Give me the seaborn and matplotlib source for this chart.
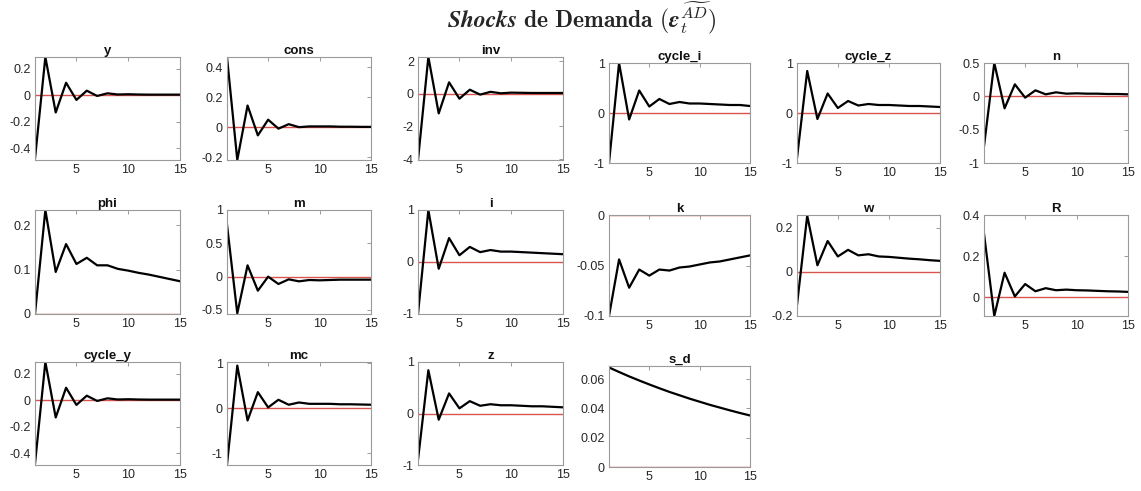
import numpy as np
import pandas as pd
import matplotlib
matplotlib.use('Agg')
import matplotlib.pyplot as plt
import seaborn as sns

# Impulse responses to a demand shock, periods 1..15
periods = list(range(1, 16))

y_irf = [-0.48, 0.29, -0.13, 0.095, -0.035, 0.035, -0.005, 0.015, 0.006, 0.008, 0.006, 0.005, 0.005, 0.005, 0.005]
cons_irf = [0.47, -0.22, 0.145, -0.055, 0.05, -0.01, 0.02, 0.0, 0.005, 0.005, 0.005, 0.003, 0.003, 0.002, 0.002]
inv_irf = [-4.05, 2.25, -1.2, 0.7, -0.3, 0.25, -0.05, 0.12, 0.03, 0.07, 0.06, 0.05, 0.05, 0.05, 0.05]
cycle_i_irf = [-1.0, 1.0, -0.13, 0.45, 0.13, 0.28, 0.18, 0.22, 0.19, 0.19, 0.18, 0.17, 0.16, 0.16, 0.14]
cycle_z_irf = [-0.9, 0.84, -0.12, 0.39, 0.1, 0.24, 0.15, 0.18, 0.16, 0.16, 0.15, 0.14, 0.14, 0.13, 0.12]
n_irf = [-0.75, 0.5, -0.18, 0.18, -0.02, 0.09, 0.03, 0.06, 0.04, 0.045, 0.04, 0.04, 0.035, 0.035, 0.03]
phi_irf = [0.0, 0.235, 0.095, 0.158, 0.113, 0.127, 0.11, 0.11, 0.102, 0.098, 0.093, 0.089, 0.084, 0.079, 0.074]
m_irf = [0.78, -0.55, 0.17, -0.21, 0.0, -0.11, -0.04, -0.07, -0.05, -0.055, -0.05, -0.045, -0.045, -0.045, -0.045]
i_irf = [-1.0, 1.0, -0.13, 0.46, 0.13, 0.29, 0.19, 0.23, 0.2, 0.2, 0.19, 0.18, 0.17, 0.16, 0.15]
k_irf = [-0.1, -0.044, -0.072, -0.054, -0.06, -0.054, -0.055, -0.052, -0.051, -0.049, -0.047, -0.046, -0.044, -0.042, -0.040]
w_irf = [-0.15, 0.255, 0.03, 0.14, 0.07, 0.1, 0.075, 0.08, 0.07, 0.068, 0.064, 0.06, 0.057, 0.053, 0.05]
R_irf = [0.31, -0.09, 0.12, 0.005, 0.065, 0.03, 0.045, 0.035, 0.038, 0.035, 0.034, 0.032, 0.03, 0.029, 0.027]
cycle_y_irf = [-0.48, 0.29, -0.13, 0.095, -0.035, 0.035, -0.005, 0.015, 0.006, 0.008, 0.006, 0.005, 0.005, 0.005, 0.005]
mc_irf = [-1.25, 0.95, -0.27, 0.36, 0.02, 0.19, 0.08, 0.13, 0.1, 0.1, 0.1, 0.09, 0.09, 0.085, 0.08]
z_irf = [-0.9, 0.84, -0.12, 0.39, 0.1, 0.24, 0.15, 0.18, 0.16, 0.16, 0.15, 0.14, 0.14, 0.13, 0.12]
s_d_irf = [0.068, 0.0649, 0.0619, 0.0591, 0.0564, 0.0538, 0.0513, 0.049, 0.0467, 0.0446, 0.0425, 0.0406, 0.0387, 0.0369, 0.0352]

# name, data, y limits, y ticks, y tick labels
panels = [
    ('y', y_irf, (-0.49, 0.29), [-0.4, -0.2, 0, 0.2], ['-0.4', '-0.2', '0', '0.2']),
    ('cons', cons_irf, (-0.22, 0.47), [-0.2, 0, 0.2, 0.4], ['-0.2', '0', '0.2', '0.4']),
    ('inv', inv_irf, (-4.05, 2.25), [-4, -2, 0, 2], ['-4', '-2', '0', '2']),
    ('cycle_i', cycle_i_irf, (-1.0, 1.0), [-1, 0, 1], ['-1', '0', '1']),
    ('cycle_z', cycle_z_irf, (-1.0, 1.0), [-1, 0, 1], ['-1', '0', '1']),
    ('n', n_irf, (-1.0, 0.5), [-1, -0.5, 0, 0.5], ['-1', '-0.5', '0', '0.5']),
    ('phi', phi_irf, (0.0, 0.235), [0, 0.1, 0.2], ['0', '0.1', '0.2']),
    ('m', m_irf, (-0.56, 1.0), [-0.5, 0, 0.5, 1], ['-0.5', '0', '0.5', '1']),
    ('i', i_irf, (-1.0, 1.0), [-1, 0, 1], ['-1', '0', '1']),
    ('k', k_irf, (-0.1, 0.0), [-0.1, -0.05, 0], ['-0.1', '-0.05', '0']),
    ('w', w_irf, (-0.2, 0.258), [-0.2, 0, 0.2], ['-0.2', '0', '0.2']),
    ('R', R_irf, (-0.09, 0.4), [0, 0.2, 0.4], ['0', '0.2', '0.4']),
    ('cycle_y', cycle_y_irf, (-0.49, 0.29), [-0.4, -0.2, 0, 0.2], ['-0.4', '-0.2', '0', '0.2']),
    ('mc', mc_irf, (-1.26, 1.03), [-1, 0, 1], ['-1', '0', '1']),
    ('z', z_irf, (-1.0, 1.0), [-1, 0, 1], ['-1', '0', '1']),
    ('s_d', s_d_irf, (0.0, 0.069), [0, 0.02, 0.04, 0.06], ['0', '0.02', '0.04', '0.06']),
]

# axes boxes in pixels: left, right, top, bottom
W, H = 1141, 491
cols = [(35, 180), (227, 371), (418, 563), (609, 750), (797, 940), (984, 1128)]
rows_left = [(57, 160), (210, 314), (362, 465)]
rows_right = [(63, 163), (215, 316), (366, 467)]

sns.set_theme(style='white')
plt.rcParams['font.family'] = ['Liberation Sans', 'DejaVu Sans']
plt.rcParams['mathtext.fontset'] = 'cm'

fig = plt.figure(figsize=(W / 100, H / 100), dpi=100)

for idx, (name, vals, ylim, yt, ytl) in enumerate(panels):
    if idx < 12:
        r, c = divmod(idx, 6)
    else:
        r, c = 2, idx - 12
    x0, x1 = cols[c]
    t0, b0 = rows_left[r] if c < 3 else rows_right[r]
    ax = fig.add_axes([x0 / W, 1 - b0 / H, (x1 - x0) / W, (b0 - t0) / H])
    df = pd.DataFrame({'t': periods, 'v': vals})
    ax.plot([1, 15], [0, 0], color='#d9534f', lw=1.0, zorder=1)
    sns.lineplot(data=df, x='t', y='v', ax=ax, color='black', lw=1.6, zorder=2)
    ax.set_xlim(1, 15)
    ax.set_ylim(*ylim)
    ax.set_xticks([5, 10, 15])
    ax.set_xticklabels(['5', '10', '15'])
    ax.set_yticks(yt)
    ax.set_yticklabels(ytl)
    ax.set_xlabel('')
    ax.set_ylabel('')
    ax.set_title(name, fontsize=9.5, fontweight='bold', pad=2, color='#111111')
    ax.tick_params(direction='in', top=True, right=True, length=3, width=0.6,
                   labelsize=9, colors='#8c8c8c', labelcolor='#262626', pad=3)
    for sp in ax.spines.values():
        sp.set_color('#9a9a9a')
        sp.set_linewidth(0.8)

fig.text(0.51, 0.963,
         r'$\mathbfit{Shocks}\ \mathbf{de\ Demanda\ (}\mathbfit{\varepsilon}_{t}^{\widetilde{AD}}\mathbf{)}$',
         ha='center', va='center', fontsize=17)

fig.savefig('out.png', dpi=100)
